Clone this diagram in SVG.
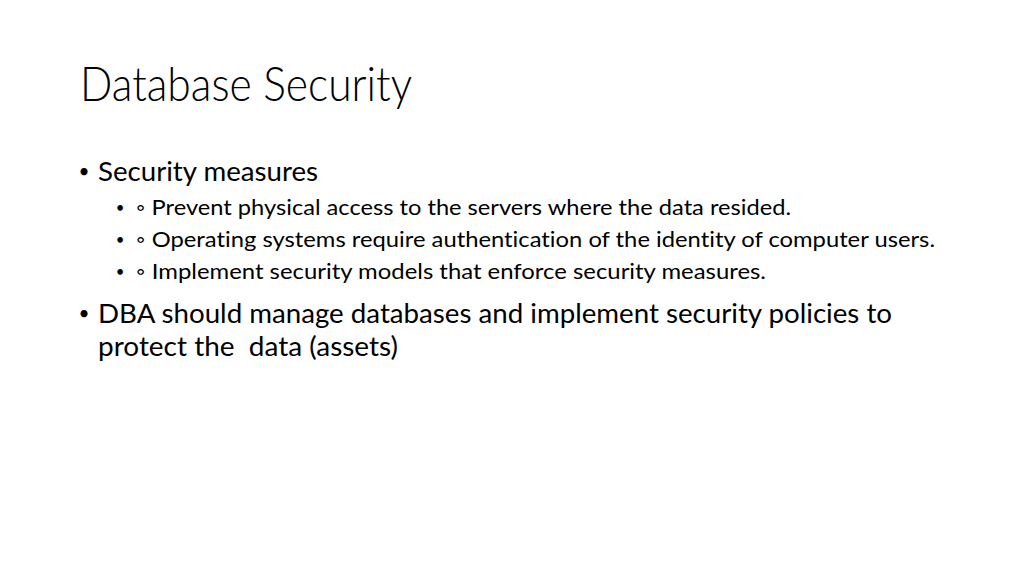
<svg xmlns="http://www.w3.org/2000/svg" width="1024" height="576" viewBox="0 0 1024 576">
<style>
text{font-family:Lato,"Open Sans","Liberation Sans",sans-serif;fill:#000;font-variant-ligatures:none}
.t{font-size:47px;font-weight:300}
.l1{font-size:27.5px}
.l2{font-size:21px}
.b1{font-size:19px;text-anchor:middle}
.b2{font-size:15px;text-anchor:middle}
</style>
<rect width="1024" height="576" fill="#fff"/>
<g id="title"><text class="t" x="80" y="101" textLength="332" lengthAdjust="spacingAndGlyphs">Database Security</text></g>
<g id="body">
<text class="b1" x="84" y="178">•</text>
<text class="l1" x="98" y="181" textLength="220" lengthAdjust="spacingAndGlyphs">Security measures</text>
<text class="b2" x="120" y="213">•</text>
<text class="l2" x="136" y="215" textLength="655" lengthAdjust="spacingAndGlyphs">◦ Prevent physical access to the servers where the data resided.</text>
<text class="b2" x="120" y="245">•</text>
<text class="l2" x="136" y="247" textLength="799" lengthAdjust="spacingAndGlyphs">◦ Operating systems require authentication of the identity of computer users.</text>
<text class="b2" x="120" y="277">•</text>
<text class="l2" x="136" y="279" textLength="630" lengthAdjust="spacingAndGlyphs">◦ Implement security models that enforce security measures.</text>
<text class="b1" x="84" y="320">•</text>
<text class="l1" x="98" y="323" textLength="794" lengthAdjust="spacingAndGlyphs">DBA should manage databases and implement security policies to</text>
<text class="l1" x="98" y="356" textLength="300" lengthAdjust="spacingAndGlyphs" xml:space="preserve">protect the  data (assets)</text>
</g>
</svg>
